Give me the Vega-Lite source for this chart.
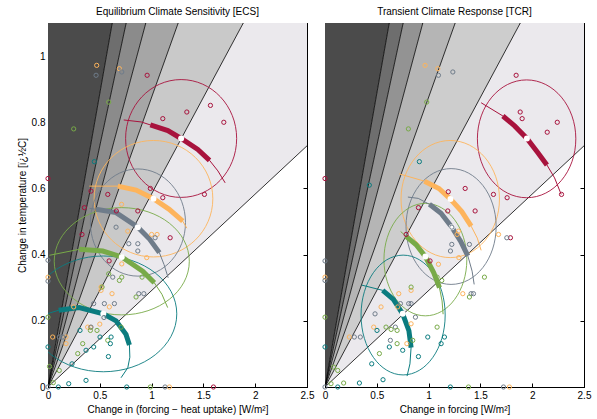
{
"$schema": "https://vega.github.io/schema/vega-lite/v6.json",
"padding": {"left": 16, "top": 6, "right": 5, "bottom": 5},
"bounds": "flush",
"spacing": 18,
"config": {
  "font": "Liberation Sans",
  "view": {"stroke": "black", "strokeWidth": 1},
  "axis": {"domainColor": "black", "tickColor": "black", "labelColor": "black", "titleColor": "black", "labelFont": "Liberation Sans", "titleFont": "Liberation Sans", "labelFontSize": 10, "titleFontSize": 10, "titleFontWeight": "normal", "grid": false, "tickSize": -4, "labelPadding": 7, "labelFlush": false, "zindex": 1, "titlePadding": 4},
  "title": {"font": "Liberation Sans", "fontSize": 10, "fontWeight": "normal", "color": "black", "offset": 6}
},
"datasets": {
  "lines": [
    {"x": 0, "y": 0, "x2": 2.5, "y2": 0.7288},
    {"x": 0, "y": 0, "x2": 1.885, "y2": 1.1},
    {"x": 0, "y": 0, "x2": 1.2565, "y2": 1.1},
    {"x": 0, "y": 0, "x2": 0.944, "y2": 1.1},
    {"x": 0, "y": 0, "x2": 0.7545, "y2": 1.1},
    {"x": 0, "y": 0, "x2": 0.62, "y2": 1.1}
  ],
  "wedL": [
    {"b": "Ld6", "x": 0, "lo": 0, "hi": 1.1}, {"b": "Ld6", "x": 0.62, "lo": 1.1, "hi": 1.1},
    {"b": "Lb56", "x": 0, "lo": 0, "hi": 0}, {"b": "Lb56", "x": 0.62, "lo": 0.904, "hi": 1.1}, {"b": "Lb56", "x": 0.7545, "lo": 1.1, "hi": 1.1},
    {"b": "Lb45", "x": 0, "lo": 0, "hi": 0}, {"b": "Lb45", "x": 0.7545, "lo": 0.8794, "hi": 1.1}, {"b": "Lb45", "x": 0.944, "lo": 1.1, "hi": 1.1},
    {"b": "Lb34", "x": 0, "lo": 0, "hi": 0}, {"b": "Lb34", "x": 0.944, "lo": 0.8265, "hi": 1.1}, {"b": "Lb34", "x": 1.2565, "lo": 1.1, "hi": 1.1},
    {"b": "Lb23", "x": 0, "lo": 0, "hi": 0}, {"b": "Lb23", "x": 1.2565, "lo": 0.7332, "hi": 1.1}, {"b": "Lb23", "x": 1.885, "lo": 1.1, "hi": 1.1},
    {"b": "Lb12", "x": 0, "lo": 0, "hi": 0}, {"b": "Lb12", "x": 1.885, "lo": 0.5495, "hi": 1.1}, {"b": "Lb12", "x": 2.5, "lo": 0.7288, "hi": 1.1}
  ],
  "wedR": [
    {"b": "Rd6", "x": 0, "lo": 0, "hi": 1.1}, {"b": "Rd6", "x": 0.62, "lo": 1.1, "hi": 1.1},
    {"b": "Rb56", "x": 0, "lo": 0, "hi": 0}, {"b": "Rb56", "x": 0.62, "lo": 0.904, "hi": 1.1}, {"b": "Rb56", "x": 0.7545, "lo": 1.1, "hi": 1.1},
    {"b": "Rb45", "x": 0, "lo": 0, "hi": 0}, {"b": "Rb45", "x": 0.7545, "lo": 0.8794, "hi": 1.1}, {"b": "Rb45", "x": 0.944, "lo": 1.1, "hi": 1.1},
    {"b": "Rb34", "x": 0, "lo": 0, "hi": 0}, {"b": "Rb34", "x": 0.944, "lo": 0.8265, "hi": 1.1}, {"b": "Rb34", "x": 1.2565, "lo": 1.1, "hi": 1.1},
    {"b": "Rb23", "x": 0, "lo": 0, "hi": 0}, {"b": "Rb23", "x": 1.2565, "lo": 0.7332, "hi": 1.1}, {"b": "Rb23", "x": 1.885, "lo": 1.1, "hi": 1.1},
    {"b": "Rb12", "x": 0, "lo": 0, "hi": 0}, {"b": "Rb12", "x": 1.885, "lo": 0.5495, "hi": 1.1}, {"b": "Rb12", "x": 2.5, "lo": 0.7288, "hi": 1.1}
  ],
  "ellL": [
    {"s": "red", "e": "Lred", "cx": 1.285, "cy": 0.751, "hw": 0.536, "dx": 1.285, "dy": 0.751},
    {"s": "orange", "e": "Lorange", "cx": 1.018, "cy": 0.569, "hw": 0.573, "dx": 1.018, "dy": 0.569},
    {"s": "gray", "e": "Lgray", "cx": 0.868, "cy": 0.497, "hw": 0.459, "dx": 0.867, "dy": 0.483},
    {"s": "green", "e": "Lgreen", "cx": 0.712, "cy": 0.38, "hw": 0.652, "dx": 0.712, "dy": 0.393},
    {"s": "teal", "e": "Lteal", "cx": 0.534, "cy": 0.221, "hw": 0.709, "dx": 0.534, "dy": 0.221}
  ],
  "ellR": [
    {"s": "red", "e": "Rred", "cx": 1.946, "cy": 0.75, "hw": 0.475, "dx": 1.949, "dy": 0.751},
    {"s": "orange", "e": "Rorange", "cx": 1.209, "cy": 0.568, "hw": 0.475, "dx": 1.211, "dy": 0.568},
    {"s": "gray", "e": "Rgray", "cx": 1.217, "cy": 0.485, "hw": 0.435, "dx": 1.224, "dy": 0.483},
    {"s": "green", "e": "Rgreen", "cx": 0.969, "cy": 0.385, "hw": 0.4, "dx": 0.969, "dy": 0.394},
    {"s": "teal", "e": "Rteal", "cx": 0.754, "cy": 0.2175, "hw": 0.406, "dx": 0.75, "dy": 0.221}
  ],
  "arcL": [
    {"s": "red", "i": 1, "x": 0.731, "y": 0.807, "t": 0}, {"s": "red", "i": 2, "x": 0.899, "y": 0.801, "t": 0}, {"s": "red", "i": 3, "x": 0.988, "y": 0.792, "t": 1}, {"s": "red", "i": 4, "x": 1.157, "y": 0.775, "t": 1}, {"s": "red", "i": 5, "x": 1.285, "y": 0.751, "t": 1}, {"s": "red", "i": 6, "x": 1.446, "y": 0.718, "t": 1}, {"s": "red", "i": 7, "x": 1.559, "y": 0.685, "t": 1}, {"s": "red", "i": 8, "x": 1.64, "y": 0.653, "t": 0}, {"s": "red", "i": 9, "x": 1.71, "y": 0.617, "t": 0},
    {"s": "orange", "i": 1, "x": 0.4, "y": 0.607, "t": 0}, {"s": "orange", "i": 2, "x": 0.673, "y": 0.607, "t": 1}, {"s": "orange", "i": 3, "x": 0.85, "y": 0.595, "t": 1}, {"s": "orange", "i": 4, "x": 1.018, "y": 0.569, "t": 1}, {"s": "orange", "i": 5, "x": 1.17, "y": 0.537, "t": 1}, {"s": "orange", "i": 6, "x": 1.301, "y": 0.501, "t": 1}, {"s": "orange", "i": 7, "x": 1.34, "y": 0.48, "t": 0},
    {"s": "gray", "i": 1, "x": 0.4, "y": 0.54, "t": 0}, {"s": "gray", "i": 2, "x": 0.464, "y": 0.537, "t": 1}, {"s": "gray", "i": 3, "x": 0.657, "y": 0.527, "t": 1}, {"s": "gray", "i": 4, "x": 0.867, "y": 0.483, "t": 1}, {"s": "gray", "i": 5, "x": 0.98, "y": 0.447, "t": 1}, {"s": "gray", "i": 6, "x": 1.075, "y": 0.406, "t": 1}, {"s": "gray", "i": 7, "x": 1.12, "y": 0.37, "t": 0}, {"s": "gray", "i": 8, "x": 1.16, "y": 0.33, "t": 0},
    {"s": "green", "i": 1, "x": 0.013, "y": 0.398, "t": 0}, {"s": "green", "i": 2, "x": 0.302, "y": 0.416, "t": 1}, {"s": "green", "i": 3, "x": 0.528, "y": 0.411, "t": 1}, {"s": "green", "i": 4, "x": 0.712, "y": 0.393, "t": 1}, {"s": "green", "i": 5, "x": 0.914, "y": 0.35, "t": 1}, {"s": "green", "i": 6, "x": 1.026, "y": 0.315, "t": 1}, {"s": "green", "i": 7, "x": 1.1, "y": 0.28, "t": 0}, {"s": "green", "i": 8, "x": 1.155, "y": 0.24, "t": 0},
    {"s": "teal", "i": 1, "x": 0, "y": 0.222, "t": 0}, {"s": "teal", "i": 2, "x": 0.103, "y": 0.232, "t": 1}, {"s": "teal", "i": 3, "x": 0.302, "y": 0.24, "t": 1}, {"s": "teal", "i": 4, "x": 0.534, "y": 0.221, "t": 1}, {"s": "teal", "i": 5, "x": 0.657, "y": 0.2, "t": 1}, {"s": "teal", "i": 6, "x": 0.753, "y": 0.159, "t": 1}, {"s": "teal", "i": 7, "x": 0.786, "y": 0.127, "t": 1}, {"s": "teal", "i": 8, "x": 0.79, "y": 0.09, "t": 0}, {"s": "teal", "i": 9, "x": 0.77, "y": 0.058, "t": 0}, {"s": "teal", "i": 10, "x": 0.705, "y": 0.028, "t": 0}
  ],
  "arcR": [
    {"s": "red", "i": 1, "x": 1.507, "y": 0.859, "t": 0}, {"s": "red", "i": 2, "x": 1.717, "y": 0.819, "t": 1}, {"s": "red", "i": 3, "x": 1.83, "y": 0.789, "t": 1}, {"s": "red", "i": 4, "x": 1.949, "y": 0.751, "t": 1}, {"s": "red", "i": 5, "x": 2.055, "y": 0.708, "t": 1}, {"s": "red", "i": 6, "x": 2.142, "y": 0.671, "t": 1}, {"s": "red", "i": 7, "x": 2.216, "y": 0.632, "t": 0}, {"s": "red", "i": 8, "x": 2.28, "y": 0.582, "t": 0},
    {"s": "orange", "i": 1, "x": 0.718, "y": 0.644, "t": 0}, {"s": "orange", "i": 2, "x": 0.96, "y": 0.622, "t": 1}, {"s": "orange", "i": 3, "x": 1.1, "y": 0.6, "t": 1}, {"s": "orange", "i": 4, "x": 1.211, "y": 0.568, "t": 1}, {"s": "orange", "i": 5, "x": 1.32, "y": 0.53, "t": 1}, {"s": "orange", "i": 6, "x": 1.411, "y": 0.486, "t": 1}, {"s": "orange", "i": 7, "x": 1.47, "y": 0.45, "t": 0}, {"s": "orange", "i": 8, "x": 1.507, "y": 0.413, "t": 0},
    {"s": "gray", "i": 1, "x": 0.8, "y": 0.574, "t": 0}, {"s": "gray", "i": 2, "x": 0.9, "y": 0.57, "t": 0}, {"s": "gray", "i": 3, "x": 1.008, "y": 0.552, "t": 1}, {"s": "gray", "i": 4, "x": 1.12, "y": 0.525, "t": 1}, {"s": "gray", "i": 5, "x": 1.224, "y": 0.483, "t": 1}, {"s": "gray", "i": 6, "x": 1.31, "y": 0.44, "t": 1}, {"s": "gray", "i": 7, "x": 1.379, "y": 0.396, "t": 1}, {"s": "gray", "i": 8, "x": 1.42, "y": 0.35, "t": 0}, {"s": "gray", "i": 9, "x": 1.44, "y": 0.31, "t": 0},
    {"s": "green", "i": 1, "x": 0.73, "y": 0.47, "t": 0}, {"s": "green", "i": 2, "x": 0.783, "y": 0.455, "t": 1}, {"s": "green", "i": 3, "x": 0.88, "y": 0.43, "t": 1}, {"s": "green", "i": 4, "x": 0.969, "y": 0.394, "t": 1}, {"s": "green", "i": 5, "x": 1.05, "y": 0.345, "t": 1}, {"s": "green", "i": 6, "x": 1.105, "y": 0.3, "t": 1}, {"s": "green", "i": 7, "x": 1.13, "y": 0.26, "t": 0}, {"s": "green", "i": 8, "x": 1.14, "y": 0.22, "t": 0},
    {"s": "teal", "i": 1, "x": 0.354, "y": 0.308, "t": 0}, {"s": "teal", "i": 2, "x": 0.557, "y": 0.292, "t": 1}, {"s": "teal", "i": 3, "x": 0.66, "y": 0.265, "t": 1}, {"s": "teal", "i": 4, "x": 0.75, "y": 0.221, "t": 1}, {"s": "teal", "i": 5, "x": 0.81, "y": 0.17, "t": 1}, {"s": "teal", "i": 6, "x": 0.831, "y": 0.119, "t": 1}, {"s": "teal", "i": 7, "x": 0.82, "y": 0.07, "t": 0}, {"s": "teal", "i": 8, "x": 0.792, "y": 0.033, "t": 0}
  ],
  "ptsL": [
    {"s": "red", "x": 0, "y": 0.63}, {"s": "red", "x": 0.415, "y": 0.592}, {"s": "red", "x": 0.577, "y": 0.582}, {"s": "red", "x": 0.988, "y": 0.6}, {"s": "red", "x": 1.108, "y": 0.572}, {"s": "red", "x": 1.51, "y": 0.582}, {"s": "red", "x": 0.351, "y": 0.542}, {"s": "red", "x": 0.66, "y": 0.532}, {"s": "red", "x": 0.867, "y": 0.532}, {"s": "red", "x": 0.328, "y": 0.461}, {"s": "red", "x": 1.179, "y": 0.451}, {"s": "red", "x": 0.59, "y": 0.381}, {"s": "red", "x": 1.597, "y": 0}, {"s": "red", "x": 0.957, "y": 0.942}, {"s": "red", "x": 1.108, "y": 0.811}, {"s": "red", "x": 1.34, "y": 0.831}, {"s": "red", "x": 1.568, "y": 0.851}, {"s": "red", "x": 1.697, "y": 0.8},
    {"s": "orange", "x": 0.47, "y": 0.972}, {"s": "orange", "x": 0.689, "y": 0.962}, {"s": "orange", "x": 0.71, "y": 0.552}, {"s": "orange", "x": 0.77, "y": 0.471}, {"s": "orange", "x": 1.0, "y": 0.461}, {"s": "orange", "x": 1.053, "y": 0.461}, {"s": "orange", "x": 0.953, "y": 0.391}, {"s": "orange", "x": 0.712, "y": 0.372}, {"s": "orange", "x": 0.512, "y": 0.302}, {"s": "orange", "x": 0.512, "y": 0.292}, {"s": "orange", "x": 0.618, "y": 0.282}, {"s": "orange", "x": 0.592, "y": 0.242}, {"s": "orange", "x": 0.248, "y": 0.242}, {"s": "orange", "x": 0.5, "y": 0.19}, {"s": "orange", "x": 0.383, "y": 0.181}, {"s": "orange", "x": 0.41, "y": 0.18}, {"s": "orange", "x": 0.045, "y": 0.151}, {"s": "orange", "x": 0.174, "y": 0.151}, {"s": "orange", "x": 0.174, "y": 0.131}, {"s": "orange", "x": 0, "y": 0.332}, {"s": "orange", "x": 1.172, "y": 0},
    {"s": "gray", "x": 0.464, "y": 0.942}, {"s": "gray", "x": 0.712, "y": 0.952}, {"s": "gray", "x": 0.657, "y": 0.483}, {"s": "gray", "x": 0.78, "y": 0.433}, {"s": "gray", "x": 0.867, "y": 0.433}, {"s": "gray", "x": 0.867, "y": 0.411}, {"s": "gray", "x": 1.034, "y": 0.451}, {"s": "gray", "x": 0.625, "y": 0.332}, {"s": "gray", "x": 0.441, "y": 0.252}, {"s": "gray", "x": 0.544, "y": 0.252}, {"s": "gray", "x": 0.641, "y": 0.252}, {"s": "gray", "x": 0.876, "y": 0.282}, {"s": "gray", "x": 0.925, "y": 0.282}, {"s": "gray", "x": 0.415, "y": 0.181}, {"s": "gray", "x": 0.109, "y": 0.151}, {"s": "gray", "x": 0.142, "y": 0.151}, {"s": "gray", "x": 0, "y": 0.383}, {"s": "gray", "x": 0, "y": 0.32}, {"s": "gray", "x": 1.13, "y": 0}, {"s": "gray", "x": 0.54, "y": 0.21}, {"s": "gray", "x": 0, "y": 0},
    {"s": "green", "x": 0.248, "y": 0.78}, {"s": "green", "x": 0.586, "y": 0.861}, {"s": "green", "x": 0.586, "y": 0.342}, {"s": "green", "x": 0.712, "y": 0.332}, {"s": "green", "x": 0.689, "y": 0.322}, {"s": "green", "x": 0.908, "y": 0.332}, {"s": "green", "x": 0.522, "y": 0.302}, {"s": "green", "x": 0.85, "y": 0.272}, {"s": "green", "x": 0, "y": 0.211}, {"s": "green", "x": 0.473, "y": 0.171}, {"s": "green", "x": 0.409, "y": 0.171}, {"s": "green", "x": 0.335, "y": 0.131}, {"s": "green", "x": 0.287, "y": 0.101}, {"s": "green", "x": 0.705, "y": 0.181}, {"s": "green", "x": 0.577, "y": 0.141}, {"s": "green", "x": 0.109, "y": 0.05}, {"s": "green", "x": 0.015, "y": 0.062}, {"s": "green", "x": 0.051, "y": 0.013}, {"s": "green", "x": 0.988, "y": 0},
    {"s": "teal", "x": 0.447, "y": 0.681}, {"s": "teal", "x": 0.309, "y": 0.171}, {"s": "teal", "x": 0.441, "y": 0.121}, {"s": "teal", "x": 0.367, "y": 0.111}, {"s": "teal", "x": 0.502, "y": 0.151}, {"s": "teal", "x": 0.609, "y": 0.151}, {"s": "teal", "x": 0.602, "y": 0.131}, {"s": "teal", "x": 0.583, "y": 0.092}, {"s": "teal", "x": 0.232, "y": 0.07}, {"s": "teal", "x": 0, "y": 0.121}, {"s": "teal", "x": 0.1, "y": 0}, {"s": "teal", "x": 0.2, "y": 0.01}, {"s": "teal", "x": 0.367, "y": 0.02}, {"s": "teal", "x": 0.76, "y": 0}
  ],
  "ptsR": [
    {"s": "red", "x": 1.845, "y": 0.942}, {"s": "red", "x": 1.884, "y": 0.831}, {"s": "red", "x": 1.903, "y": 0.811}, {"s": "red", "x": 2.242, "y": 0.8}, {"s": "red", "x": 2.145, "y": 0.77}, {"s": "red", "x": 2.283, "y": 0.582}, {"s": "red", "x": 0, "y": 0.63}, {"s": "red", "x": 1.19, "y": 0.59}, {"s": "red", "x": 1.353, "y": 0.6}, {"s": "red", "x": 1.626, "y": 0.582}, {"s": "red", "x": 1.758, "y": 0.572}, {"s": "red", "x": 0.902, "y": 0.542}, {"s": "red", "x": 1.185, "y": 0.532}, {"s": "red", "x": 1.449, "y": 0.532}, {"s": "red", "x": 0.783, "y": 0.461}, {"s": "red", "x": 1.014, "y": 0.381}, {"s": "red", "x": 1.79, "y": 0.451},
    {"s": "orange", "x": 0.966, "y": 0.972}, {"s": "orange", "x": 1.089, "y": 0.962}, {"s": "orange", "x": 1.275, "y": 0.461}, {"s": "orange", "x": 1.288, "y": 0.471}, {"s": "orange", "x": 1.675, "y": 0.461}, {"s": "orange", "x": 1.095, "y": 0.371}, {"s": "orange", "x": 1.292, "y": 0.391}, {"s": "orange", "x": 0.712, "y": 0.282}, {"s": "orange", "x": 0.831, "y": 0.292}, {"s": "orange", "x": 0.541, "y": 0.242}, {"s": "orange", "x": 0.702, "y": 0.242}, {"s": "orange", "x": 0.47, "y": 0.181}, {"s": "orange", "x": 0.831, "y": 0.191}, {"s": "orange", "x": 0.79, "y": 0.131}, {"s": "orange", "x": 0.235, "y": 0.151}, {"s": "orange", "x": 0, "y": 0.332}, {"s": "orange", "x": 1.78, "y": 0}, {"s": "orange", "x": 1.33, "y": 0.282},
    {"s": "gray", "x": 1.095, "y": 0.942}, {"s": "gray", "x": 1.234, "y": 0.952}, {"s": "gray", "x": 1.224, "y": 0.483}, {"s": "gray", "x": 1.224, "y": 0.431}, {"s": "gray", "x": 1.211, "y": 0.411}, {"s": "gray", "x": 1.394, "y": 0.431}, {"s": "gray", "x": 1.755, "y": 0.451}, {"s": "gray", "x": 1.41, "y": 0.282}, {"s": "gray", "x": 1.433, "y": 0.282}, {"s": "gray", "x": 0.728, "y": 0.252}, {"s": "gray", "x": 0.808, "y": 0.252}, {"s": "gray", "x": 0.831, "y": 0.252}, {"s": "gray", "x": 0.483, "y": 0.221}, {"s": "gray", "x": 0.873, "y": 0.211}, {"s": "gray", "x": 0.679, "y": 0.181}, {"s": "gray", "x": 0.631, "y": 0.141}, {"s": "gray", "x": 0.283, "y": 0.151}, {"s": "gray", "x": 0.341, "y": 0.151}, {"s": "gray", "x": 0, "y": 0.381}, {"s": "gray", "x": 0, "y": 0.322}, {"s": "gray", "x": 1.723, "y": 0}, {"s": "gray", "x": 0, "y": 0},
    {"s": "green", "x": 0.982, "y": 0.861}, {"s": "green", "x": 0.805, "y": 0.78}, {"s": "green", "x": 0.831, "y": 0.302}, {"s": "green", "x": 1.082, "y": 0.332}, {"s": "green", "x": 1.127, "y": 0.322}, {"s": "green", "x": 1.539, "y": 0.332}, {"s": "green", "x": 1.394, "y": 0.272}, {"s": "green", "x": 1.082, "y": 0.181}, {"s": "green", "x": 0.847, "y": 0.141}, {"s": "green", "x": 0.696, "y": 0.131}, {"s": "green", "x": 0.525, "y": 0.101}, {"s": "green", "x": 0.589, "y": 0.181}, {"s": "green", "x": 0.638, "y": 0.174}, {"s": "green", "x": 0.696, "y": 0.171}, {"s": "green", "x": 0, "y": 0.211}, {"s": "green", "x": 0.084, "y": 0.06}, {"s": "green", "x": 0.123, "y": 0.05}, {"s": "green", "x": 0.058, "y": 0.01}, {"s": "green", "x": 0.18, "y": 0.012}, {"s": "green", "x": 1.385, "y": 0},
    {"s": "teal", "x": 0.911, "y": 0.681}, {"s": "teal", "x": 0.428, "y": 0.61}, {"s": "teal", "x": 0.502, "y": 0.171}, {"s": "teal", "x": 0.621, "y": 0.121}, {"s": "teal", "x": 0.75, "y": 0.111}, {"s": "teal", "x": 0.902, "y": 0.092}, {"s": "teal", "x": 0.992, "y": 0.151}, {"s": "teal", "x": 1.153, "y": 0.151}, {"s": "teal", "x": 1.121, "y": 0.131}, {"s": "teal", "x": 0.451, "y": 0.07}, {"s": "teal", "x": 0.56, "y": 0.022}, {"s": "teal", "x": 0.332, "y": 0.012}, {"s": "teal", "x": 0.123, "y": 0}, {"s": "teal", "x": 0, "y": 0.121}, {"s": "teal", "x": 1.21, "y": 0}
  ]
},
"hconcat": [
  {
    "width": 259, "height": 364,
    "title": {"text": "Equilibrium Climate Sensitivity [ECS]"},
    "resolve": {"axis": {"x": "independent", "y": "independent"}},
    "layer": [
      {"data": {"name": "wedL"}, "mark": {"type": "area", "clip": true},
       "encoding": {
         "x": {"field": "x", "type": "quantitative", "scale": {"domain": [0, 2.5], "nice": false, "zero": false}, "axis": {"orient": "bottom", "values": [0, 0.5, 1, 1.5, 2, 2.5], "format": "~g", "title": "Change in (forcing − heat uptake) [W/m²]"}},
         "y": {"field": "lo", "type": "quantitative", "stack": null, "scale": {"domain": [0, 1.1], "nice": false}, "axis": {"orient": "left", "values": [0, 0.2, 0.4, 0.6, 0.8, 1], "format": "~g", "title": "Change in temperature [ï¿½C]"}},
         "y2": {"field": "hi"},
         "fill": {"field": "b", "type": "nominal", "scale": {"domain": ["Ld6", "Lb56", "Lb45", "Lb34", "Lb23", "Lb12", "Rd6", "Rb56", "Rb45", "Rb34", "Rb23", "Rb12"], "range": ["#4b4b4b", "#6e6e6e", "#8b8b8b", "#a6a6a6", "#c9c9c9", "#ebe9ed", "#4b4b4b", "#6e6e6e", "#939393", "#b5b5b5", "#cdcdcd", "#ebe9ed"]}, "legend": null},
         "detail": {"field": "b"}
       }},
      {"data": {"name": "lines"}, "mark": {"type": "rule", "color": "black", "strokeWidth": 0.8, "clip": true},
       "encoding": {
         "x": {"field": "x", "type": "quantitative", "scale": {"domain": [0, 2.5], "nice": false, "zero": false}, "axis": {"orient": "top", "values": [0, 0.5, 1, 1.5, 2, 2.5], "labels": false, "title": null}},
         "y": {"field": "y", "type": "quantitative", "scale": {"domain": [0, 1.1], "nice": false}, "axis": {"orient": "right", "values": [0, 0.2, 0.4, 0.6, 0.8, 1], "labels": false, "title": null}},
         "x2": {"field": "x2"}, "y2": {"field": "y2"}
       }},
      {"data": {"name": "ellL"}, "mark": {"type": "point", "filled": false, "strokeWidth": 0.9, "opacity": 1, "clip": true},
       "encoding": {
         "x": {"field": "cx", "type": "quantitative", "axis": null},
         "y": {"field": "cy", "type": "quantitative", "axis": null},
         "shape": {"field": "e", "type": "nominal", "legend": null, "scale": {"domain": ["Lred", "Lorange", "Lgray", "Lgreen", "Lteal", "Rred", "Rorange", "Rgray", "Rgreen", "Rteal"], "range": [
           "M1,0C1,0.586 0.552,1.061 0,1.061C-0.552,1.061 -1,0.586 -1,0C-1,-0.586 -0.552,-1.061 0,-1.061C0.552,-1.061 1,-0.586 1,0Z",
           "M1,0C1,0.542 0.552,0.981 0,0.981C-0.552,0.981 -1,0.542 -1,0C-1,-0.542 -0.552,-0.981 0,-0.981C0.552,-0.981 1,-0.542 1,0Z",
           "M1,0C1,0.622 0.552,1.127 0,1.127C-0.552,1.127 -1,0.622 -1,0C-1,-0.622 -0.552,-1.127 0,-1.127C0.552,-1.127 1,-0.622 1,0Z",
           "M1,0C1,0.439 0.552,0.794 0,0.794C-0.552,0.794 -1,0.439 -1,0C-1,-0.439 -0.552,-0.794 0,-0.794C0.552,-0.794 1,-0.439 1,0Z",
           "M1,0C1,0.435 0.552,0.788 0,0.788C-0.552,0.788 -1,0.435 -1,0C-1,-0.435 -0.552,-0.788 0,-0.788C0.552,-0.788 1,-0.435 1,0Z",
           "M1,0C1,0.661 0.552,1.197 0,1.197C-0.552,1.197 -1,0.661 -1,0C-1,-0.661 -0.552,-1.197 0,-1.197C0.552,-1.197 1,-0.661 1,0Z",
           "M1,0C1,0.657 0.552,1.19 0,1.19C-0.552,1.19 -1,0.657 -1,0C-1,-0.657 -0.552,-1.19 0,-1.19C0.552,-1.19 1,-0.657 1,0Z",
           "M1,0C1,0.71 0.552,1.285 0,1.285C-0.552,1.285 -1,0.71 -1,0C-1,-0.71 -0.552,-1.285 0,-1.285C0.552,-1.285 1,-0.71 1,0Z",
           "M1,0C1,0.749 0.552,1.357 0,1.357C-0.552,1.357 -1,0.749 -1,0C-1,-0.749 -0.552,-1.357 0,-1.357C0.552,-1.357 1,-0.749 1,0Z",
           "M1,0C1,0.786 0.552,1.424 0,1.424C-0.552,1.424 -1,0.786 -1,0C-1,-0.786 -0.552,-1.424 0,-1.424C0.552,-1.424 1,-0.786 1,0Z"]}},
         "size": {"field": "hw", "type": "quantitative", "legend": null, "scale": {"type": "pow", "exponent": 2, "domain": [0, 1], "range": [0, 42932]}},
         "stroke": {"field": "s", "type": "nominal", "legend": null, "scale": {"domain": ["red", "orange", "gray", "green", "teal"], "range": ["#a8133d", "#fdb45c", "#6f7c8a", "#78aa48", "#0b7c7f"]}}
       }},
      {"data": {"name": "arcL"}, "mark": {"type": "line", "strokeWidth": 1, "clip": true},
       "encoding": {
         "x": {"field": "x", "type": "quantitative", "axis": null},
         "y": {"field": "y", "type": "quantitative", "axis": null},
         "stroke": {"field": "s", "type": "nominal", "legend": null, "scale": {"domain": ["red", "orange", "gray", "green", "teal"], "range": ["#a8133d", "#fdb45c", "#6f7c8a", "#78aa48", "#0b7c7f"]}},
         "detail": {"field": "s"}, "order": {"field": "i", "type": "quantitative"}
       }},
      {"data": {"name": "arcL"}, "transform": [{"filter": "datum.t == 1"}], "mark": {"type": "line", "strokeWidth": 5, "strokeCap": "butt", "clip": true},
       "encoding": {
         "x": {"field": "x", "type": "quantitative", "axis": null},
         "y": {"field": "y", "type": "quantitative", "axis": null},
         "stroke": {"field": "s", "type": "nominal", "legend": null, "scale": {"domain": ["red", "orange", "gray", "green", "teal"], "range": ["#a8133d", "#fdb45c", "#6f7c8a", "#78aa48", "#0b7c7f"]}},
         "detail": {"field": "s"}, "order": {"field": "i", "type": "quantitative"}
       }},
      {"data": {"name": "ellL"}, "mark": {"type": "point", "filled": true, "color": "white", "size": 36, "opacity": 1, "strokeWidth": 0},
       "encoding": {
         "x": {"field": "dx", "type": "quantitative", "axis": null},
         "y": {"field": "dy", "type": "quantitative", "axis": null}
       }},
      {"data": {"name": "ptsL"}, "mark": {"type": "point", "filled": false, "size": 18, "strokeWidth": 1, "opacity": 1},
       "encoding": {
         "x": {"field": "x", "type": "quantitative", "axis": null},
         "y": {"field": "y", "type": "quantitative", "axis": null},
         "stroke": {"field": "s", "type": "nominal", "legend": null, "scale": {"domain": ["red", "orange", "gray", "green", "teal"], "range": ["#a8133d", "#fdb45c", "#6f7c8a", "#78aa48", "#0b7c7f"]}}
       }}
    ]
  },
  {
    "width": 259, "height": 364,
    "title": {"text": "Transient Climate Response [TCR]"},
    "resolve": {"axis": {"x": "independent", "y": "independent"}},
    "layer": [
      {"data": {"name": "wedR"}, "mark": {"type": "area", "clip": true},
       "encoding": {
         "x": {"field": "x", "type": "quantitative", "scale": {"domain": [0, 2.5], "nice": false, "zero": false}, "axis": {"orient": "bottom", "values": [0, 0.5, 1, 1.5, 2, 2.5], "format": "~g", "title": "Change in forcing [W/m²]"}},
         "y": {"field": "lo", "type": "quantitative", "stack": null, "scale": {"domain": [0, 1.1], "nice": false}, "axis": {"orient": "left", "values": [0, 0.2, 0.4, 0.6, 0.8, 1], "labels": false, "title": null}},
         "y2": {"field": "hi"},
         "fill": {"field": "b", "type": "nominal", "scale": {"domain": ["Ld6", "Lb56", "Lb45", "Lb34", "Lb23", "Lb12", "Rd6", "Rb56", "Rb45", "Rb34", "Rb23", "Rb12"], "range": ["#4b4b4b", "#6e6e6e", "#8b8b8b", "#a6a6a6", "#c9c9c9", "#ebe9ed", "#4b4b4b", "#6e6e6e", "#939393", "#b5b5b5", "#cdcdcd", "#ebe9ed"]}, "legend": null},
         "detail": {"field": "b"}
       }},
      {"data": {"name": "lines"}, "mark": {"type": "rule", "color": "black", "strokeWidth": 0.8, "clip": true},
       "encoding": {
         "x": {"field": "x", "type": "quantitative", "scale": {"domain": [0, 2.5], "nice": false, "zero": false}, "axis": {"orient": "top", "values": [0, 0.5, 1, 1.5, 2, 2.5], "labels": false, "title": null}},
         "y": {"field": "y", "type": "quantitative", "scale": {"domain": [0, 1.1], "nice": false}, "axis": {"orient": "right", "values": [0, 0.2, 0.4, 0.6, 0.8, 1], "labels": false, "title": null}},
         "x2": {"field": "x2"}, "y2": {"field": "y2"}
       }},
      {"data": {"name": "ellR"}, "mark": {"type": "point", "filled": false, "strokeWidth": 0.9, "opacity": 1, "clip": true},
       "encoding": {
         "x": {"field": "cx", "type": "quantitative", "axis": null},
         "y": {"field": "cy", "type": "quantitative", "axis": null},
         "shape": {"field": "e", "type": "nominal", "legend": null, "scale": {"domain": ["Lred", "Lorange", "Lgray", "Lgreen", "Lteal", "Rred", "Rorange", "Rgray", "Rgreen", "Rteal"], "range": [
           "M1,0C1,0.586 0.552,1.061 0,1.061C-0.552,1.061 -1,0.586 -1,0C-1,-0.586 -0.552,-1.061 0,-1.061C0.552,-1.061 1,-0.586 1,0Z",
           "M1,0C1,0.542 0.552,0.981 0,0.981C-0.552,0.981 -1,0.542 -1,0C-1,-0.542 -0.552,-0.981 0,-0.981C0.552,-0.981 1,-0.542 1,0Z",
           "M1,0C1,0.622 0.552,1.127 0,1.127C-0.552,1.127 -1,0.622 -1,0C-1,-0.622 -0.552,-1.127 0,-1.127C0.552,-1.127 1,-0.622 1,0Z",
           "M1,0C1,0.439 0.552,0.794 0,0.794C-0.552,0.794 -1,0.439 -1,0C-1,-0.439 -0.552,-0.794 0,-0.794C0.552,-0.794 1,-0.439 1,0Z",
           "M1,0C1,0.435 0.552,0.788 0,0.788C-0.552,0.788 -1,0.435 -1,0C-1,-0.435 -0.552,-0.788 0,-0.788C0.552,-0.788 1,-0.435 1,0Z",
           "M1,0C1,0.661 0.552,1.197 0,1.197C-0.552,1.197 -1,0.661 -1,0C-1,-0.661 -0.552,-1.197 0,-1.197C0.552,-1.197 1,-0.661 1,0Z",
           "M1,0C1,0.657 0.552,1.19 0,1.19C-0.552,1.19 -1,0.657 -1,0C-1,-0.657 -0.552,-1.19 0,-1.19C0.552,-1.19 1,-0.657 1,0Z",
           "M1,0C1,0.71 0.552,1.285 0,1.285C-0.552,1.285 -1,0.71 -1,0C-1,-0.71 -0.552,-1.285 0,-1.285C0.552,-1.285 1,-0.71 1,0Z",
           "M1,0C1,0.749 0.552,1.357 0,1.357C-0.552,1.357 -1,0.749 -1,0C-1,-0.749 -0.552,-1.357 0,-1.357C0.552,-1.357 1,-0.749 1,0Z",
           "M1,0C1,0.786 0.552,1.424 0,1.424C-0.552,1.424 -1,0.786 -1,0C-1,-0.786 -0.552,-1.424 0,-1.424C0.552,-1.424 1,-0.786 1,0Z"]}},
         "size": {"field": "hw", "type": "quantitative", "legend": null, "scale": {"type": "pow", "exponent": 2, "domain": [0, 1], "range": [0, 42932]}},
         "stroke": {"field": "s", "type": "nominal", "legend": null, "scale": {"domain": ["red", "orange", "gray", "green", "teal"], "range": ["#a8133d", "#fdb45c", "#6f7c8a", "#78aa48", "#0b7c7f"]}}
       }},
      {"data": {"name": "arcR"}, "mark": {"type": "line", "strokeWidth": 1, "clip": true},
       "encoding": {
         "x": {"field": "x", "type": "quantitative", "axis": null},
         "y": {"field": "y", "type": "quantitative", "axis": null},
         "stroke": {"field": "s", "type": "nominal", "legend": null, "scale": {"domain": ["red", "orange", "gray", "green", "teal"], "range": ["#a8133d", "#fdb45c", "#6f7c8a", "#78aa48", "#0b7c7f"]}},
         "detail": {"field": "s"}, "order": {"field": "i", "type": "quantitative"}
       }},
      {"data": {"name": "arcR"}, "transform": [{"filter": "datum.t == 1"}], "mark": {"type": "line", "strokeWidth": 5, "strokeCap": "butt", "clip": true},
       "encoding": {
         "x": {"field": "x", "type": "quantitative", "axis": null},
         "y": {"field": "y", "type": "quantitative", "axis": null},
         "stroke": {"field": "s", "type": "nominal", "legend": null, "scale": {"domain": ["red", "orange", "gray", "green", "teal"], "range": ["#a8133d", "#fdb45c", "#6f7c8a", "#78aa48", "#0b7c7f"]}},
         "detail": {"field": "s"}, "order": {"field": "i", "type": "quantitative"}
       }},
      {"data": {"name": "ellR"}, "mark": {"type": "point", "filled": true, "color": "white", "size": 36, "opacity": 1, "strokeWidth": 0},
       "encoding": {
         "x": {"field": "dx", "type": "quantitative", "axis": null},
         "y": {"field": "dy", "type": "quantitative", "axis": null}
       }},
      {"data": {"name": "ptsR"}, "mark": {"type": "point", "filled": false, "size": 18, "strokeWidth": 1, "opacity": 1},
       "encoding": {
         "x": {"field": "x", "type": "quantitative", "axis": null},
         "y": {"field": "y", "type": "quantitative", "axis": null},
         "stroke": {"field": "s", "type": "nominal", "legend": null, "scale": {"domain": ["red", "orange", "gray", "green", "teal"], "range": ["#a8133d", "#fdb45c", "#6f7c8a", "#78aa48", "#0b7c7f"]}}
       }}
    ]
  }
]
}
